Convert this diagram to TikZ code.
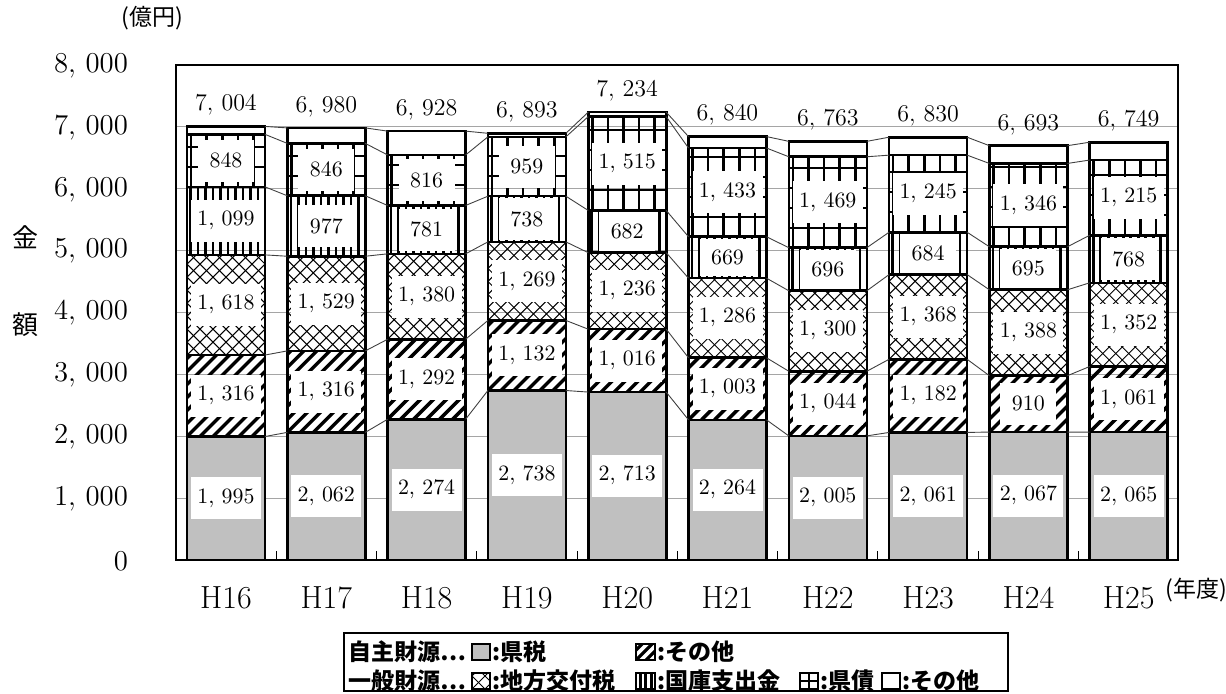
\documentclass[tikz,border=0pt]{standalone}
\usepackage{fontspec}
\newfontfamily\jp{Noto Sans CJK JP}
\definecolor{kengray}{RGB}{192,192,192}
\definecolor{gridgray}{RGB}{165,165,165}
\tikzset{
  segborder/.style={draw=black, line width=1.3pt},
  gridline/.style={draw=gridgray, line width=0.5pt},
  conn/.style={draw=black!75, line width=0.45pt},
  hatchline/.style={line width=1.7pt},
  crossline/.style={line width=0.5pt},
  vline/.style={line width=1.3pt},
  gridv/.style={line width=1.3pt},
  gridh/.style={line width=1pt},
  vallabel/.style={inner sep=0pt, font=\fontsize{10.8}{12}\selectfont},
  totlabel/.style={font=\fontsize{12}{14}\selectfont},
  axlabel/.style={anchor=east, font=\fontsize{15.5}{17}\selectfont},
  catlabel/.style={font=\fontsize{16}{18}\selectfont},
  jplabel/.style={font=\jp\fontsize{13}{15}\selectfont},
  legtext/.style={anchor=west, inner sep=0pt, font=\jp\bfseries\fontsize{11.5}{13}\selectfont},
  legbox/.style={draw=black, line width=0.6pt},
}
\pgfkeys{/pgf/number format/.cd, 1000 sep={,\,}}
% patterns: #1 xl, #2 ybottom, #3 xr, #4 ytop (pixel coords, y down)
\newcommand\pHatch[4]{\begin{scope}\clip (#1,#2) rectangle (#3,#4);
  \foreach \k in {-9,...,7}{\draw[hatchline] ({#1+\k*13},{#2}) -- ++(130,-130);}\end{scope}}
\newcommand\pCross[4]{\begin{scope}\clip (#1,#2) rectangle (#3,#4);
  \foreach \k in {-9,...,16}{\draw[crossline] ({#1+\k*13},{#2}) -- ++(130,-130);
    \draw[crossline] ({#1+\k*13},{#2}) -- ++(-130,-130);}\end{scope}}
\newcommand\pVert[4]{\begin{scope}\clip (#1,#2) rectangle (#3,#4);
  \foreach \k in {0,...,10}{\draw[vline] ({#1+3.5+\k*7.5},{#2}) -- ({#1+3.5+\k*7.5},{#4});}\end{scope}}
\newcommand\pGrid[4]{\begin{scope}\clip (#1,#2) rectangle (#3,#4);
  \foreach \k in {0,...,4}{\draw[gridv] ({#1+4+\k*15.6},{#2}) -- ({#1+4+\k*15.6},{#4});}
  \foreach \k in {0,...,10}{\draw[gridh] ({#1},{#2-\k*20}) -- ({#3},{#2-\k*20});}\end{scope}}
\newcommand\vlab[5]{%
  \pgfmathsetmacro\lw{#5>=1000 ? 35 : 28}%
  \pgfmathsetmacro\lh{min(21,(#3-#4)/2-2)}%
  \pgfmathsetmacro\lm{(#3+#4)/2}%
  \fill[white] ({#2-\lw},{\lm-\lh}) rectangle ({#2+\lw},{\lm+\lh});
  \node[vallabel] (#1) at (#2,\lm) {\pgfmathprintnumber{#5}};}
\begin{document}
\begin{tikzpicture}[x=0.5pt,y=-0.5pt]
\useasboundingbox (0,0) rectangle (1226,693);
% gridlines
\foreach \k in {1,...,7}{\draw[gridline] (176,{560-61.9*\k}) -- (1178,{560-61.9*\k});}
% axis labels
\foreach \k in {0,...,8}{\pgfmathtruncatemacro\vv{\k*1000}
  \node[axlabel] (ax\k) at (135,{561-61.9*\k}) {\pgfmathprintnumber{\vv}};}
\node[jplabel] (kin) at (25,237) {金};
\node[jplabel] (gaku) at (25,325) {額};
\node[jplabel, font=\jp\fontsize{11.5}{13}\selectfont] (unit) at (152,18) {(億円)};
% bars
\foreach \i/\va/\vb/\vc/\vd/\ve/\vt/\nm in {
 0/1995/1316/1618/1099/848/7004/H16,
 1/2062/1316/1529/977/846/6980/H17,
 2/2274/1292/1380/781/816/6928/H18,
 3/2738/1132/1269/738/959/6893/H19,
 4/2713/1016/1236/682/1515/7234/H20,
 5/2264/1003/1286/669/1433/6840/H21,
 6/2005/1044/1300/696/1469/6763/H22,
 7/2061/1182/1368/684/1245/6830/H23,
 8/2067/910/1388/695/1346/6693/H24,
 9/2065/1061/1352/768/1215/6749/H25}{
 \pgfmathsetmacro\cx{226+100.3*\i}
 \pgfmathsetmacro\xl{\cx-39}
 \pgfmathsetmacro\xr{\cx+39}
 \pgfmathsetmacro\ya{560-0.0619*\va}
 \pgfmathsetmacro\yb{560-0.0619*(\va+\vb)}
 \pgfmathsetmacro\yc{560-0.0619*(\va+\vb+\vc)}
 \pgfmathsetmacro\yd{560-0.0619*(\va+\vb+\vc+\vd)}
 \pgfmathsetmacro\ye{560-0.0619*(\va+\vb+\vc+\vd+\ve)}
 \pgfmathsetmacro\yt{560-0.0619*\vt}
 \fill[kengray] (\xl,560) rectangle (\xr,\ya);
 \draw[segborder] (\xl,560) rectangle (\xr,\ya);
 \pHatch{\xl}{\ya}{\xr}{\yb}
 \draw[segborder] (\xl,\ya) rectangle (\xr,\yb);
 \pCross{\xl}{\yb}{\xr}{\yc}
 \draw[segborder] (\xl,\yb) rectangle (\xr,\yc);
 \pVert{\xl}{\yc}{\xr}{\yd}
 \draw[segborder] (\xl,\yc) rectangle (\xr,\yd);
 \pGrid{\xl}{\yd}{\xr}{\ye}
 \draw[segborder] (\xl,\yd) rectangle (\xr,\ye);
 \draw[segborder] (\xl,\ye) rectangle (\xr,\yt);
 \vlab{v\i-1}{\cx}{560}{\ya}{\va}
 \vlab{v\i-2}{\cx}{\ya}{\yb}{\vb}
 \vlab{v\i-3}{\cx}{\yb}{\yc}{\vc}
 \vlab{v\i-4}{\cx}{\yc}{\yd}{\vd}
 \vlab{v\i-5}{\cx}{\yd}{\ye}{\ve}
 \node[totlabel] (t\i) at (\cx,{\yt-21}) {\pgfmathprintnumber{\vt}};
 \node[catlabel] (c\i) at (\cx,598) {\nm};
 \coordinate (L\i-1) at (\xl,\ya); \coordinate (R\i-1) at (\xr,\ya);
 \coordinate (L\i-2) at (\xl,\yb); \coordinate (R\i-2) at (\xr,\yb);
 \coordinate (L\i-3) at (\xl,\yc); \coordinate (R\i-3) at (\xr,\yc);
 \coordinate (L\i-4) at (\xl,\yd); \coordinate (R\i-4) at (\xr,\yd);
 \coordinate (L\i-5) at (\xl,\ye); \coordinate (R\i-5) at (\xr,\ye);
 \coordinate (L\i-6) at (\xl,\yt); \coordinate (R\i-6) at (\xr,\yt);
}
% connectors
\foreach \i in {0,...,8}{\pgfmathtruncatemacro\n{\i+1}
  \foreach \j in {1,...,6}{\draw[conn] (R\i-\j) -- (L\n-\j);}}
% frame and ticks
\draw[line width=1.2pt] (176,65) rectangle (1178,560);
\foreach \i in {0,...,8}{\draw[line width=0.5pt] ({226+100.3*\i+50.15},560) -- ++(0,-9);}
\node[jplabel, font=\jp\fontsize{11.5}{13}\selectfont] (nendo) at (1196,590) {(年度)};
% legend
\draw[line width=0.8pt] (344,633) rectangle (1008,691);
\node[legtext] (l1) at (348,652) {自主財源⋯};
\node[legtext] (l2) at (348,681) {一般財源⋯};
\filldraw[fill=kengray, legbox] (472,644) rectangle (490,660);
\node[legtext] (l3) at (492,652) {:県税};
\begin{scope}\clip (636,644) rectangle (655,660);
 \foreach \k in {-1,0,1}{\draw[line width=1.6pt] ({636+\k*10},660) -- ++(22,-22);}\end{scope}
\draw[legbox] (636,644) rectangle (655,660);
\node[legtext] (l4) at (657,652) {:その他};
\pCross{472}{689}{490}{673}
\draw[legbox] (472,673) rectangle (490,689);
\node[legtext] (l5) at (492,681) {:地方交付税};
\begin{scope}\clip (636,673) rectangle (655,689);
 \foreach \k in {0,1,2}{\draw[line width=1.5pt] ({640+\k*5.5},673) -- ++(0,16);}\end{scope}
\draw[legbox] (636,673) rectangle (655,689);
\node[legtext] (l6) at (657,681) {:国庫支出金};
\draw[legbox] (800,673) rectangle (818,689);
\draw[line width=0.9pt] (809,673) -- (809,689) (800,681) -- (818,681);
\node[legtext] (l7) at (820,681) {:県債};
\draw[legbox] (882,673) rectangle (900,689);
\node[legtext] (l8) at (902,681) {:その他};
\end{tikzpicture}
\end{document}
